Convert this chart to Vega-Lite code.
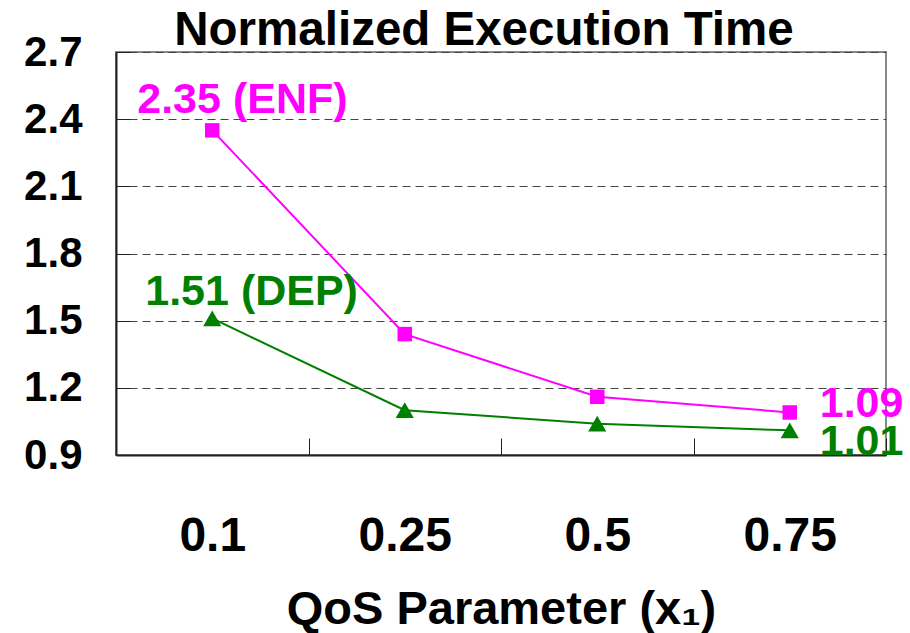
{
  "$schema": "https://vega.github.io/schema/vega-lite/v6.json",
  "width": 770,
  "height": 403,
  "autosize": "none",
  "padding": {"left": 116, "top": 52, "right": 24, "bottom": 178},
  "background": "white",
  "title": {
    "text": "Normalized Execution Time",
    "font": "Liberation Sans",
    "fontSize": 47.5,
    "fontWeight": "bold",
    "color": "black",
    "anchor": "middle",
    "frame": "group",
    "baseline": "alphabetic",
    "offset": 0,
    "dx": -17,
    "dy": 61
  },
  "config": {
    "view": {"stroke": "#888888", "strokeWidth": 2},
    "font": "Liberation Sans"
  },
  "data": {
    "values": [
      {"x": "0.1", "series": "ENF", "value": 2.35},
      {"x": "0.25", "series": "ENF", "value": 1.44},
      {"x": "0.5", "series": "ENF", "value": 1.16},
      {"x": "0.75", "series": "ENF", "value": 1.09},
      {"x": "0.1", "series": "DEP", "value": 1.51},
      {"x": "0.25", "series": "DEP", "value": 1.1},
      {"x": "0.5", "series": "DEP", "value": 1.04},
      {"x": "0.75", "series": "DEP", "value": 1.01}
    ]
  },
  "encoding": {
    "x": {
      "field": "x",
      "type": "ordinal",
      "sort": ["0.1", "0.25", "0.5", "0.75"],
      "scale": {"paddingInner": 0, "paddingOuter": 0},
      "axis": {
        "title": "QoS Parameter (x₁)",
        "titleFont": "Liberation Sans",
        "titleFontSize": 47,
        "titleFontWeight": "bold",
        "titleColor": "black",
        "titleBaseline": "alphabetic",
        "titleY": 168,
        "labelAngle": 0,
        "labelFont": "Liberation Sans",
        "labelFontSize": 48,
        "labelFontWeight": "bold",
        "labelColor": "black",
        "labelBaseline": "alphabetic",
        "labelPadding": 112,
        "tickBand": "extent",
        "tickSize": -17,
        "tickColor": "#222222",
        "tickWidth": 1,
        "domainColor": "#222222",
        "domainWidth": 2,
        "grid": false
      }
    },
    "y": {
      "field": "value",
      "type": "quantitative",
      "scale": {"domain": [0.9, 2.7], "nice": false, "zero": false},
      "axis": {
        "title": null,
        "values": [0.9, 1.2, 1.5, 1.8, 2.1, 2.4, 2.7],
        "format": ".1f",
        "labelFont": "Liberation Sans",
        "labelFontSize": 42,
        "labelFontWeight": "bold",
        "labelColor": "black",
        "labelPadding": 48,
        "tickSize": -14,
        "tickColor": "#222222",
        "tickWidth": 1,
        "domainColor": "#222222",
        "domainWidth": 2,
        "grid": true,
        "gridColor": "#444444",
        "gridDash": [8, 5],
        "gridWidth": 1
      }
    },
    "color": {
      "field": "series",
      "type": "nominal",
      "scale": {"domain": ["ENF", "DEP"], "range": ["#FF00FF", "#008000"]},
      "legend": null
    }
  },
  "layer": [
    {
      "mark": {"type": "line", "strokeWidth": 2}
    },
    {
      "mark": {"type": "point", "filled": true, "opacity": 1},
      "encoding": {
        "shape": {
          "field": "series",
          "type": "nominal",
          "scale": {"domain": ["ENF", "DEP"], "range": ["square", "triangle-up"]},
          "legend": null
        },
        "size": {
          "field": "series",
          "type": "nominal",
          "scale": {"domain": ["ENF", "DEP"], "range": [210, 330]},
          "legend": null
        }
      }
    },
    {
      "transform": [{"filter": "datum.x == '0.1' && datum.series == 'ENF'"}],
      "mark": {"type": "text", "font": "Liberation Sans", "fontSize": 43, "fontWeight": "bold", "align": "left", "baseline": "alphabetic", "dx": -75, "dy": -17},
      "encoding": {"text": {"value": "2.35 (ENF)"}}
    },
    {
      "transform": [{"filter": "datum.x == '0.1' && datum.series == 'DEP'"}],
      "mark": {"type": "text", "font": "Liberation Sans", "fontSize": 43, "fontWeight": "bold", "align": "left", "baseline": "alphabetic", "dx": -67, "dy": -13},
      "encoding": {"text": {"value": "1.51 (DEP)"}}
    },
    {
      "transform": [{"filter": "datum.x == '0.75' && datum.series == 'ENF'"}],
      "mark": {"type": "text", "font": "Liberation Sans", "fontSize": 43, "fontWeight": "bold", "align": "left", "baseline": "alphabetic", "dx": 30, "dy": 5},
      "encoding": {"text": {"field": "value", "format": ".2f"}}
    },
    {
      "transform": [{"filter": "datum.x == '0.75' && datum.series == 'DEP'"}],
      "mark": {"type": "text", "font": "Liberation Sans", "fontSize": 43, "fontWeight": "bold", "align": "left", "baseline": "alphabetic", "dx": 30, "dy": 25},
      "encoding": {"text": {"field": "value", "format": ".2f"}}
    }
  ]
}
